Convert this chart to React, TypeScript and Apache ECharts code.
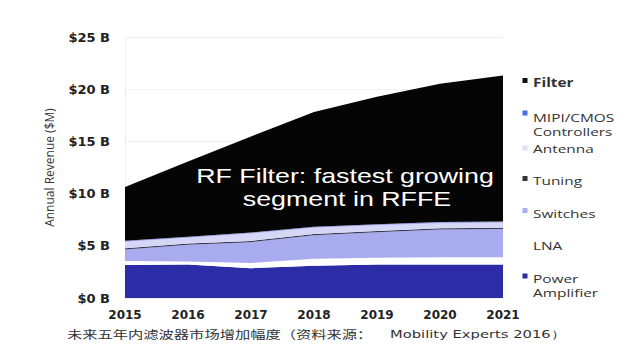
import React, { useEffect, useRef } from "react";
import * as echarts from "echarts";

const years = ["2015", "2016", "2017", "2018", "2019", "2020", "2021"];
const powerAmplifier = [3.15, 3.2, 2.85, 3.1, 3.2, 3.2, 3.2];
const lna = [0.4, 0.3, 0.5, 0.65, 0.65, 0.7, 0.7];
const switches = [1.1, 1.6, 2.0, 2.25, 2.45, 2.65, 2.7];
const tuning = [0.12, 0.12, 0.12, 0.12, 0.12, 0.12, 0.12];
const antenna = [0.62, 0.55, 0.7, 0.6, 0.55, 0.5, 0.5];
const mipi = [0.1, 0.1, 0.1, 0.1, 0.1, 0.1, 0.1];
const filter = [5.15, 7.2, 9.2, 11.0, 12.2, 13.25, 14.0];

const yTicks = [0, 5, 10, 15, 20, 25];

const seriesDefs = [
  { name: "Power Amplifier", data: powerAmplifier, color: "#2b2ca6", legendColor: "#2b2b9a" },
  { name: "LNA", data: lna, color: "#ffffff", legendColor: "#ffffff" },
  { name: "Switches", data: switches, color: "#a9abef", legendColor: "#a9aeee" },
  { name: "Tuning", data: tuning, color: "#3a3a55", legendColor: "#333333" },
  { name: "Antenna", data: antenna, color: "#d6d7f6", legendColor: "#e0e0f2" },
  { name: "MIPI/CMOS Controllers", data: mipi, color: "#9ea4ee", legendColor: "#4a6ee0" },
  { name: "Filter", data: filter, color: "#050505", legendColor: "#111111" },
];

const legendLayout = [
  { name: "Filter", markerY: 80.5, lines: [["Filter", 82]], bold: true },
  { name: "MIPI/CMOS Controllers", markerY: 113, lines: [["MIPI/CMOS", 117], ["Controllers", 131]] },
  { name: "Antenna", markerY: 148, lines: [["Antenna", 148]] },
  { name: "Tuning", markerY: 178.5, lines: [["Tuning", 180]] },
  { name: "Switches", markerY: 210.5, lines: [["Switches", 213]] },
  { name: "LNA", markerY: 243, lines: [["LNA", 245]] },
  { name: "Power Amplifier", markerY: 276, lines: [["Power", 278], ["Amplifier", 292]] },
];

// the reference image is horizontally stretched
const stretch = 1.34;

export default function App() {
  const ref = useRef<HTMLDivElement>(null);
  useEffect(() => {
    if (!ref.current) return;
    const chart = echarts.init(ref.current, null, { renderer: "svg" });
    const graphics: any[] = [];
    legendLayout.forEach((l) => {
      const def = seriesDefs.find((s) => s.name === l.name)!;
      graphics.push({
        type: "rect",
        z: 100,
        shape: { x: 522.5, y: l.markerY - 2.5, width: 5, height: 5 },
        style: { fill: def.legendColor },
      });
      l.lines.forEach(([t, y]) => {
        graphics.push({
          type: "text",
          z: 100,
          x: 533,
          y: y as number,
          scaleX: stretch,
          style: {
            text: t as string,
            fill: "#333",
            font: `${l.bold ? "bold " : ""}11.5px "Open Sans", sans-serif`,
            lineHeight: 12,
            verticalAlign: "middle",
            align: "left",
          },
        });
      });
    });
    const noteFont = '20px "Liberation Sans", Arial, sans-serif';
    graphics.push({
      type: "text",
      z: 100,
      x: 345,
      y: 176,
      scaleX: stretch,
      style: { text: "RF Filter: fastest growing", fill: "#ffffff", font: noteFont, align: "center", verticalAlign: "middle" },
    });
    graphics.push({
      type: "text",
      z: 100,
      x: 347,
      y: 199,
      scaleX: stretch,
      style: { text: "segment in RFFE", fill: "#ffffff", font: noteFont, align: "center", verticalAlign: "middle" },
    });
    graphics.push({
      type: "text",
      z: 100,
      x: 67,
      y: 334,
      scaleX: stretch,
      style: {
        text: "未来五年内滤波器市场增加幅度（资料来源：",
        fill: "#333",
        font: '11.4px "Noto Sans CJK SC", sans-serif',
        align: "left",
        verticalAlign: "middle",
      },
    });
    graphics.push({
      type: "text",
      z: 100,
      x: 390,
      y: 334,
      scaleX: stretch,
      style: {
        text: "Mobility Experts 2016）",
        fill: "#333",
        font: '11px "DejaVu Sans", sans-serif',
        align: "left",
        verticalAlign: "middle",
      },
    });

    chart.setOption({
      animation: false,
      backgroundColor: "#ffffff",
      grid: { left: 125, right: 137, top: 37, bottom: 62 },
      xAxis: {
        type: "category",
        data: years,
        boundaryGap: false,
        axisLine: { show: false },
        axisTick: { show: false },
        axisLabel: {
          color: "#222",
          fontWeight: "bold",
          fontSize: 12,
          fontFamily: "DejaVu Sans",
          margin: 11,
        },
      },
      yAxis: {
        type: "value",
        min: yTicks[0],
        max: yTicks[yTicks.length - 1],
        interval: 5,
        name: "Annual Revenue ($M)",
        nameLocation: "middle",
        nameGap: 70,
        nameTextStyle: { color: "#333", fontSize: 12, fontFamily: "Open Sans" },
        axisLine: { show: true, lineStyle: { color: "#eeeeee" } },
        axisTick: { show: false },
        splitLine: { show: true, lineStyle: { color: "#f1f1f1" } },
        axisLabel: {
          color: "#222",
          fontWeight: "bold",
          fontSize: 13,
          fontFamily: "DejaVu Sans",
          margin: 15,
          formatter: (v: number) => `$${v} B`,
        },
      },
      series: seriesDefs.map((s) => ({
        name: s.name,
        type: "line",
        stack: "total",
        data: s.data,
        symbol: "none",
        lineStyle: { width: 0 },
        areaStyle: { color: s.color, opacity: 1 },
        itemStyle: { color: s.color },
      })),
      graphic: graphics,
    });
    return () => chart.dispose();
  }, []);
  return <div ref={ref} style={{ width: 640, height: 360, position: "absolute", left: 0, top: 0 }} />;
}
